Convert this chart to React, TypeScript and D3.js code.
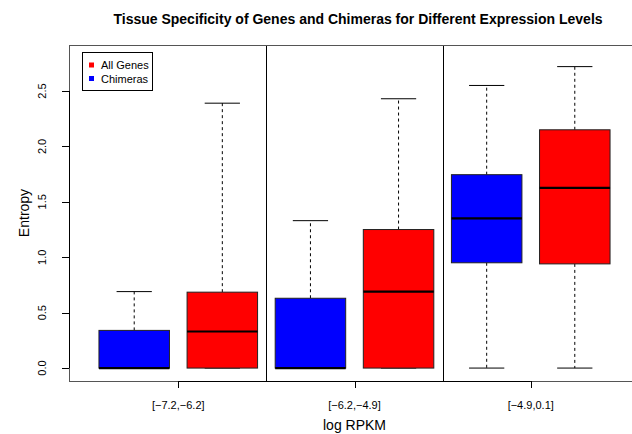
import React from "react";
import * as d3 from "d3";

const categories = ["[\u22127.2,\u22126.2]", "[\u22126.2,\u22124.9]", "[\u22124.9,0.1]"];
const seriesNames = ["Chimeras", "All Genes"];
const seriesColors = ["#0000FF", "#FF0000"];

// Chimeras box stats per category
const chimeraLow = [0, 0, 0];
const chimeraQ1 = [0, 0, 0.95];
const chimeraMed = [0, 0, 1.35];
const chimeraQ3 = [0.34, 0.63, 1.745];
const chimeraHigh = [0.69, 1.33, 2.55];

// All Genes box stats per category
const genesLow = [0, 0, 0];
const genesQ1 = [0, 0, 0.94];
const genesMed = [0.33, 0.69, 1.625];
const genesQ3 = [0.685, 1.25, 2.15];
const genesHigh = [2.39, 2.43, 2.72];

const yTicks = [0, 0.5, 1, 1.5, 2, 2.5];

const W = 632;
const H = 434;
const left = 69;
const right = 640;
const top = 45;
const bottom = 381;
const FONT = "'Liberation Sans', Arial, Helvetica, sans-serif";

export default function App() {
  const x = d3.scaleLinear().domain([0.26, 6.74]).range([left, right]);
  const y = d3.scaleLinear().domain([-0.1166, 2.915]).range([bottom, top]);
  const unit = x(1) - x(0);
  const boxW = unit * 0.8;
  const capW = boxW * 0.5;

  const boxes: any[] = [];
  categories.forEach((c, i) => {
    boxes.push({ pos: 2 * i + 1, color: seriesColors[0], lo: chimeraLow[i], q1: chimeraQ1[i], med: chimeraMed[i], q3: chimeraQ3[i], hi: chimeraHigh[i] });
    boxes.push({ pos: 2 * i + 2, color: seriesColors[1], lo: genesLow[i], q1: genesQ1[i], med: genesMed[i], q3: genesQ3[i], hi: genesHigh[i] });
  });

  const groupPos = categories.map((_, i) => 2 * i + 1.5);
  const sepPos = categories.slice(1).map((_, i) => 2 * i + 2.5);

  return (
    <svg width={W} height={H} style={{ position: "absolute", left: 0, top: 0 }} fontFamily={FONT}>
      <rect x={0} y={0} width={W} height={H} fill="#fff" />
      <text x={358} y={24} textAnchor="middle" fontSize={14} fontWeight="bold">
        Tissue Specificity of Genes and Chimeras for Different Expression Levels
      </text>

      {/* separators */}
      {sepPos.map((p) => (
        <line key={p} x1={Math.round(x(p)) + 0.5} x2={Math.round(x(p)) + 0.5} y1={top} y2={bottom} stroke="#000" strokeWidth={1} />
      ))}

      {/* boxes */}
      {boxes.map((b) => {
        const cx = x(b.pos);
        return (
          <g key={b.pos}>
            <line x1={cx} x2={cx} y1={y(b.q3)} y2={y(b.hi)} stroke="#000" strokeDasharray="3,3" />
            <line x1={cx} x2={cx} y1={y(b.q1)} y2={y(b.lo)} stroke="#000" strokeDasharray="3,3" />
            <line x1={cx - capW / 2} x2={cx + capW / 2} y1={y(b.hi)} y2={y(b.hi)} stroke="#000" />
            <line x1={cx - capW / 2} x2={cx + capW / 2} y1={y(b.lo)} y2={y(b.lo)} stroke="#000" />
            <rect x={cx - boxW / 2} y={y(b.q3)} width={boxW} height={Math.max(0, y(b.q1) - y(b.q3))} fill={b.color} stroke="#222" strokeWidth={1} />
            <line x1={cx - boxW / 2} x2={cx + boxW / 2} y1={y(b.med)} y2={y(b.med)} stroke="#000" strokeWidth={2.2} />
          </g>
        );
      })}

      {/* plot frame */}
      <rect x={left + 0.5} y={top + 0.5} width={right - left} height={bottom - top} fill="none" stroke="#555" strokeWidth={1} />

      {/* y axis */}
      <line x1={left + 0.5} x2={left + 0.5} y1={y(yTicks[0])} y2={y(yTicks[yTicks.length - 1])} stroke="#000" />
      {yTicks.map((t) => (
        <g key={t}>
          <line x1={left - 7} x2={left} y1={Math.round(y(t)) + 0.5} y2={Math.round(y(t)) + 0.5} stroke="#000" />
          <text
            transform={`translate(${42},${y(t)}) rotate(-90)`}
            textAnchor="middle"
            dominantBaseline="central"
            fontSize={11}
          >
            {t.toFixed(1)}
          </text>
        </g>
      ))}
      <text transform={`translate(24,${(top + bottom) / 2}) rotate(-90)`} textAnchor="middle" dominantBaseline="central" fontSize={14}>
        Entropy
      </text>

      {/* x axis */}
      <line x1={x(groupPos[0])} x2={x(groupPos[groupPos.length - 1])} y1={bottom + 0.5} y2={bottom + 0.5} stroke="#000" />
      {groupPos.map((p, i) => (
        <g key={p}>
          <line x1={Math.round(x(p)) + 0.5} x2={Math.round(x(p)) + 0.5} y1={bottom} y2={bottom + 7} stroke="#000" />
          <text x={x(p)} y={405} textAnchor="middle" dominantBaseline="central" fontSize={11}>
            {categories[i]}
          </text>
        </g>
      ))}
      <text x={(left + right) / 2} y={425} textAnchor="middle" dominantBaseline="central" fontSize={14}>
        log RPKM
      </text>

      {/* legend */}
      <rect x={82.5} y={52.5} width={70} height={38} fill="#fff" stroke="#000" />
      {[seriesNames[1], seriesNames[0]].map((name, i) => (
        <g key={name}>
          <rect x={89} y={62.5 + i * 13.5} width={5} height={5} fill={i === 0 ? seriesColors[1] : seriesColors[0]} />
          <text x={101} y={65 + i * 13.5} dominantBaseline="central" fontSize={11}>
            {name}
          </text>
        </g>
      ))}
    </svg>
  );
}
